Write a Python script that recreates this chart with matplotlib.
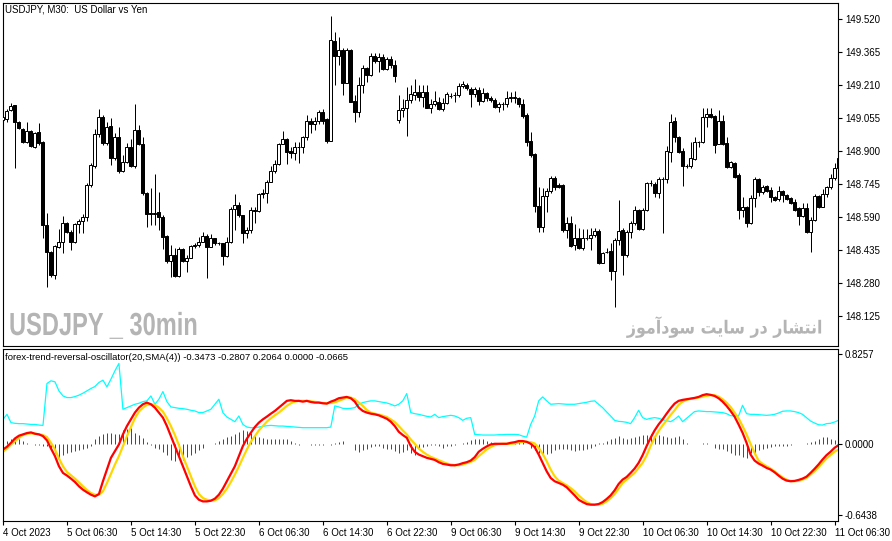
import numpy as np
import matplotlib
matplotlib.use('Agg')
import matplotlib.pyplot as plt
from matplotlib.patheffects import AbstractPathEffect
from matplotlib.transforms import Affine2D

plt.rcParams['font.family'] = ['Liberation Sans', 'DejaVu Sans']

# USDJPY M30 candles
open_ = [149.045, 149.050, 149.092, 149.116, 149.036, 149.003, 148.942, 148.993, 148.918, 148.989,
         148.942, 148.551, 148.425, 148.317, 148.448, 148.472, 148.561, 148.519, 148.472, 148.556,
         148.570, 148.589, 148.740, 148.829, 148.979, 149.059, 148.937, 149.017, 148.866, 148.965,
         148.805, 148.848, 148.918, 148.829, 148.998, 148.932, 148.702, 148.608, 148.603, 148.613,
         148.589, 148.500, 148.382, 148.411, 148.312, 148.439, 148.382, 148.397, 148.453, 148.458,
         148.472, 148.500, 148.448, 148.490, 148.467, 148.467, 148.406, 148.472, 148.627, 148.646,
         148.599, 148.514, 148.528, 148.622, 148.617, 148.697, 148.702, 148.754, 148.805, 148.838,
         148.932, 148.956, 148.899, 148.890, 148.918, 148.918, 148.965, 149.040, 149.026, 149.040,
         149.083, 149.050, 148.946, 149.416, 149.346, 149.374, 149.219, 149.374, 149.134, 149.083,
         149.210, 149.289, 149.257, 149.346, 149.322, 149.341, 149.285, 149.332, 149.304, 149.045,
         149.092, 149.101, 149.139, 149.163, 149.177, 149.153, 149.177, 149.101, 149.120, 149.130,
         149.097, 149.125, 149.158, 149.163, 149.163, 149.205, 149.210, 149.191, 149.167, 149.186,
         149.134, 149.172, 149.148, 149.139, 149.106, 149.120, 149.120, 149.148, 149.148, 149.148,
         149.120, 149.069, 148.946, 148.885, 148.641, 148.542, 148.688, 148.711, 148.773, 148.740,
         148.740, 148.528, 148.561, 148.458, 148.490, 148.443, 148.490, 148.490, 148.505, 148.523,
         148.373, 148.425, 148.429, 148.335, 148.481, 148.528, 148.411, 148.519, 148.561, 148.622,
         148.533, 148.622, 148.749, 148.744, 148.702, 148.768, 148.768, 148.895, 149.040, 148.965,
         148.899, 148.829, 148.829, 148.862, 148.942, 148.942, 149.059, 149.073, 149.064, 148.932,
         149.040, 148.937, 148.824, 148.843, 148.787, 148.622, 148.636, 148.561, 148.678, 148.768,
         148.707, 148.735, 148.716, 148.683, 148.674, 148.711, 148.693, 148.678, 148.660, 148.631,
         148.594, 148.631, 148.519, 148.575, 148.688, 148.636, 148.697, 148.730, 148.773, 148.819]
high = [149.069, 149.097, 149.125, 149.116, 149.040, 149.007, 149.036, 148.998, 148.989, 149.031,
        148.946, 148.608, 148.429, 148.458, 148.533, 148.594, 148.566, 148.528, 148.561, 148.580,
        148.603, 148.749, 148.843, 149.003, 149.097, 149.069, 149.036, 149.054, 148.984, 149.012,
        148.881, 148.937, 148.956, 149.120, 149.022, 148.965, 148.707, 148.725, 148.791, 148.707,
        148.599, 148.505, 148.458, 148.443, 148.448, 148.443, 148.411, 148.458, 148.467, 148.495,
        148.519, 148.509, 148.509, 148.490, 148.472, 148.467, 148.495, 148.636, 148.697, 148.660,
        148.599, 148.542, 148.636, 148.636, 148.702, 148.721, 148.763, 148.829, 148.857, 148.937,
        148.993, 148.961, 148.918, 148.942, 148.942, 148.970, 149.069, 149.054, 149.059, 149.092,
        149.097, 149.054, 149.534, 149.459, 149.435, 149.383, 149.383, 149.379, 149.163, 149.247,
        149.304, 149.294, 149.360, 149.360, 149.360, 149.355, 149.341, 149.346, 149.327, 149.163,
        149.144, 149.200, 149.210, 149.238, 149.210, 149.210, 149.210, 149.144, 149.181, 149.153,
        149.148, 149.177, 149.172, 149.177, 149.219, 149.228, 149.219, 149.200, 149.200, 149.200,
        149.195, 149.177, 149.158, 149.148, 149.130, 149.130, 149.181, 149.177, 149.181, 149.153,
        149.144, 149.078, 148.989, 148.890, 148.730, 148.725, 148.725, 148.782, 148.782, 148.749,
        148.744, 148.589, 148.594, 148.556, 148.537, 148.533, 148.533, 148.537, 148.537, 148.533,
        148.425, 148.443, 148.467, 148.490, 148.669, 148.537, 148.528, 148.570, 148.641, 148.627,
        148.631, 148.754, 148.763, 148.754, 148.777, 148.777, 148.923, 149.073, 149.059, 148.970,
        148.913, 148.838, 148.942, 148.965, 148.946, 149.101, 149.101, 149.101, 149.069, 149.092,
        149.069, 148.965, 148.852, 148.848, 148.796, 148.683, 148.641, 148.693, 148.777, 148.773,
        148.740, 148.740, 148.730, 148.688, 148.735, 148.716, 148.697, 148.683, 148.674, 148.636,
        148.655, 148.655, 148.589, 148.697, 148.693, 148.721, 148.735, 148.791, 148.843, 148.881]
low = [149.036, 149.036, 149.087, 148.819, 149.003, 148.937, 148.937, 148.918, 148.913, 148.928,
       148.490, 148.260, 148.307, 148.298, 148.443, 148.420, 148.514, 148.434, 148.467, 148.514,
       148.514, 148.570, 148.730, 148.819, 148.965, 148.928, 148.928, 148.834, 148.857, 148.796,
       148.801, 148.843, 148.824, 148.819, 148.928, 148.693, 148.542, 148.551, 148.551, 148.528,
       148.439, 148.373, 148.307, 148.307, 148.307, 148.378, 148.331, 148.397, 148.443, 148.448,
       148.472, 148.302, 148.448, 148.458, 148.458, 148.364, 148.401, 148.467, 148.528, 148.589,
       148.467, 148.490, 148.514, 148.561, 148.613, 148.678, 148.655, 148.754, 148.796, 148.834,
       148.932, 148.838, 148.866, 148.857, 148.843, 148.890, 148.951, 148.984, 148.998, 149.026,
       149.026, 148.937, 148.946, 149.210, 149.304, 149.163, 149.219, 149.130, 149.036, 149.059,
       149.172, 149.224, 149.252, 149.313, 149.271, 149.280, 149.280, 149.289, 149.224, 149.031,
       149.059, 148.970, 149.125, 149.139, 149.134, 149.106, 149.101, 149.078, 149.111, 149.092,
       149.087, 149.120, 149.148, 149.130, 149.153, 149.195, 149.186, 149.106, 149.153, 149.116,
       149.130, 149.134, 149.130, 149.101, 149.083, 149.092, 149.106, 149.130, 149.125, 149.106,
       149.054, 148.923, 148.871, 148.613, 148.519, 148.519, 148.613, 148.702, 148.716, 148.725,
       148.519, 148.490, 148.448, 148.434, 148.439, 148.434, 148.481, 148.434, 148.495, 148.368,
       148.373, 148.420, 148.293, 148.166, 148.458, 148.317, 148.401, 148.490, 148.551, 148.528,
       148.528, 148.617, 148.735, 148.683, 148.678, 148.514, 148.749, 148.848, 148.942, 148.890,
       148.735, 148.819, 148.819, 148.857, 148.918, 148.937, 149.012, 149.054, 148.890, 148.932,
       148.928, 148.819, 148.819, 148.773, 148.580, 148.589, 148.542, 148.556, 148.636, 148.688,
       148.697, 148.707, 148.660, 148.664, 148.664, 148.660, 148.669, 148.650, 148.617, 148.551,
       148.589, 148.514, 148.425, 148.570, 148.631, 148.636, 148.683, 148.721, 148.763, 148.810]
close = [149.059, 149.087, 149.111, 149.036, 149.007, 148.942, 148.993, 148.923, 148.984, 148.937,
         148.551, 148.425, 148.317, 148.453, 148.472, 148.561, 148.519, 148.472, 148.556, 148.570,
         148.589, 148.740, 148.834, 148.979, 149.059, 148.937, 149.012, 148.866, 148.965, 148.805,
         148.848, 148.918, 148.829, 148.998, 148.932, 148.702, 148.603, 148.603, 148.608, 148.589,
         148.495, 148.382, 148.411, 148.312, 148.439, 148.382, 148.397, 148.453, 148.458, 148.472,
         148.500, 148.448, 148.490, 148.467, 148.466, 148.406, 148.472, 148.627, 148.646, 148.599,
         148.514, 148.528, 148.622, 148.617, 148.697, 148.702, 148.754, 148.805, 148.838, 148.932,
         148.956, 148.895, 148.890, 148.918, 148.919, 148.965, 149.040, 149.026, 149.040, 149.083,
         149.040, 148.946, 149.421, 149.346, 149.374, 149.219, 149.374, 149.130, 149.083, 149.210,
         149.289, 149.257, 149.346, 149.322, 149.341, 149.285, 149.332, 149.304, 149.252, 149.092,
         149.101, 149.139, 149.167, 149.177, 149.153, 149.177, 149.101, 149.120, 149.134, 149.097,
         149.125, 149.167, 149.157, 149.162, 149.205, 149.214, 149.195, 149.167, 149.191, 149.134,
         149.172, 149.148, 149.139, 149.106, 149.120, 149.119, 149.148, 149.153, 149.153, 149.120,
         149.064, 148.942, 148.881, 148.641, 148.542, 148.688, 148.711, 148.773, 148.730, 148.730,
         148.528, 148.561, 148.453, 148.490, 148.443, 148.490, 148.489, 148.505, 148.523, 148.373,
         148.420, 148.424, 148.335, 148.481, 148.523, 148.411, 148.519, 148.561, 148.622, 148.533,
         148.622, 148.749, 148.748, 148.702, 148.768, 148.767, 148.899, 149.036, 148.965, 148.895,
         148.829, 148.828, 148.866, 148.942, 148.941, 149.059, 149.073, 149.059, 148.928, 149.040,
         148.932, 148.824, 148.848, 148.777, 148.622, 148.636, 148.561, 148.678, 148.768, 148.707,
         148.730, 148.711, 148.683, 148.669, 148.711, 148.693, 148.674, 148.655, 148.622, 148.594,
         148.631, 148.519, 148.575, 148.688, 148.636, 148.697, 148.730, 148.773, 148.819, 148.866]

# oscillator buffers
osc_main = [-0.046, -0.021, 0.015, 0.055, 0.080, 0.092, 0.104, 0.110, 0.098, 0.092,
            0.076, 0.037, -0.037, -0.107, -0.199, -0.260, -0.284, -0.312, -0.343, -0.382,
            -0.413, -0.437, -0.459, -0.474, -0.453, -0.336, -0.229, -0.122, -0.061, 0.000,
            0.092, 0.168, 0.229, 0.291, 0.336, 0.367, 0.382, 0.367, 0.336, 0.291,
            0.245, 0.168, 0.076, -0.015, -0.107, -0.199, -0.291, -0.382, -0.465, -0.505,
            -0.520, -0.520, -0.514, -0.495, -0.459, -0.404, -0.336, -0.269, -0.199, -0.107,
            -0.015, 0.052, 0.107, 0.159, 0.199, 0.229, 0.254, 0.281, 0.306, 0.336,
            0.367, 0.398, 0.404, 0.398, 0.398, 0.391, 0.398, 0.388, 0.382, 0.382,
            0.376, 0.373, 0.391, 0.404, 0.422, 0.428, 0.434, 0.422, 0.391, 0.336,
            0.306, 0.291, 0.281, 0.275, 0.266, 0.251, 0.235, 0.208, 0.168, 0.116,
            0.086, 0.061, -0.015, -0.067, -0.092, -0.107, -0.122, -0.131, -0.141, -0.162,
            -0.177, -0.183, -0.190, -0.190, -0.183, -0.171, -0.162, -0.147, -0.116, -0.067,
            -0.040, -0.018, 0.000, 0.006, 0.006, 0.006, 0.006, 0.015, 0.021, 0.031,
            0.031, 0.024, 0.006, -0.024, -0.092, -0.168, -0.245, -0.306, -0.336, -0.352,
            -0.367, -0.391, -0.428, -0.465, -0.505, -0.526, -0.544, -0.550, -0.550, -0.544,
            -0.526, -0.498, -0.465, -0.419, -0.361, -0.321, -0.297, -0.260, -0.220, -0.168,
            -0.098, -0.015, 0.061, 0.128, 0.183, 0.229, 0.281, 0.330, 0.373, 0.398,
            0.407, 0.413, 0.419, 0.425, 0.434, 0.450, 0.459, 0.453, 0.443, 0.422,
            0.391, 0.352, 0.306, 0.254, 0.183, 0.107, 0.015, -0.092, -0.147, -0.174,
            -0.193, -0.214, -0.229, -0.254, -0.284, -0.312, -0.330, -0.336, -0.333, -0.324,
            -0.312, -0.294, -0.260, -0.223, -0.183, -0.138, -0.098, -0.067, -0.031, -0.006]
osc_signal = [-0.067, -0.037, 0.000, 0.031, 0.061, 0.086, 0.098, 0.101, 0.098, 0.092,
              0.086, 0.067, 0.015, -0.046, -0.128, -0.199, -0.251, -0.281, -0.312, -0.346,
              -0.382, -0.416, -0.443, -0.459, -0.459, -0.428, -0.352, -0.269, -0.183, -0.107,
              -0.015, 0.076, 0.159, 0.239, 0.300, 0.336, 0.361, 0.367, 0.361, 0.336,
              0.300, 0.239, 0.168, 0.086, -0.006, -0.107, -0.199, -0.291, -0.382, -0.453,
              -0.489, -0.505, -0.511, -0.511, -0.489, -0.453, -0.404, -0.343, -0.275, -0.202,
              -0.122, -0.046, 0.024, 0.076, 0.128, 0.168, 0.208, 0.239, 0.266, 0.291,
              0.321, 0.352, 0.376, 0.391, 0.398, 0.398, 0.398, 0.394, 0.391, 0.385,
              0.379, 0.376, 0.379, 0.385, 0.398, 0.413, 0.428, 0.428, 0.413, 0.382,
              0.352, 0.315, 0.291, 0.281, 0.272, 0.263, 0.251, 0.229, 0.205, 0.168,
              0.128, 0.092, 0.046, 0.006, -0.037, -0.067, -0.092, -0.113, -0.128, -0.144,
              -0.159, -0.174, -0.183, -0.190, -0.190, -0.183, -0.171, -0.159, -0.141, -0.107,
              -0.076, -0.046, -0.024, -0.006, 0.003, 0.006, 0.006, 0.006, 0.009, 0.018,
              0.024, 0.024, 0.021, 0.009, -0.031, -0.086, -0.153, -0.229, -0.291, -0.330,
              -0.352, -0.373, -0.398, -0.428, -0.465, -0.498, -0.526, -0.544, -0.550, -0.550,
              -0.541, -0.520, -0.489, -0.453, -0.404, -0.352, -0.321, -0.291, -0.260, -0.214,
              -0.168, -0.101, -0.015, 0.061, 0.122, 0.174, 0.220, 0.269, 0.312, 0.361,
              0.391, 0.407, 0.416, 0.422, 0.428, 0.437, 0.443, 0.450, 0.450, 0.437,
              0.413, 0.382, 0.343, 0.291, 0.239, 0.168, 0.092, 0.006, -0.076, -0.147,
              -0.177, -0.199, -0.220, -0.245, -0.275, -0.300, -0.321, -0.333, -0.336, -0.333,
              -0.321, -0.306, -0.275, -0.245, -0.208, -0.168, -0.128, -0.098, -0.067, -0.046]
osc_cyan = [0.229, 0.275, 0.199, 0.193, 0.190, 0.190, 0.187, 0.183, 0.183, 0.177,
            0.174, 0.557, 0.581, 0.572, 0.489, 0.443, 0.428, 0.428, 0.437, 0.450,
            0.468, 0.489, 0.511, 0.529, 0.566, 0.587, 0.526, 0.596, 0.673, 0.740,
            0.321, 0.336, 0.352, 0.367, 0.376, 0.391, 0.398, 0.443, 0.367, 0.413,
            0.483, 0.391, 0.343, 0.336, 0.330, 0.327, 0.321, 0.312, 0.306, 0.291,
            0.291, 0.306, 0.321, 0.367, 0.413, 0.291, 0.251, 0.229, 0.208, 0.260,
            0.183, 0.159, 0.153, 0.153, 0.159, 0.165, 0.171, 0.174, 0.171, 0.168,
            0.168, 0.165, 0.162, 0.159, 0.156, 0.153, 0.153, 0.153, 0.153, 0.153,
            0.153, 0.153, 0.159, 0.352, 0.343, 0.330, 0.327, 0.330, 0.336, 0.367,
            0.382, 0.391, 0.398, 0.398, 0.391, 0.385, 0.379, 0.367, 0.352, 0.367,
            0.398, 0.465, 0.291, 0.281, 0.275, 0.266, 0.257, 0.251, 0.275, 0.245,
            0.254, 0.260, 0.266, 0.260, 0.245, 0.220, 0.239, 0.245, 0.092, 0.089,
            0.086, 0.086, 0.086, 0.086, 0.089, 0.089, 0.092, 0.092, 0.092, 0.089,
            0.076, 0.067, 0.183, 0.260, 0.398, 0.434, 0.398, 0.367, 0.370, 0.373,
            0.370, 0.367, 0.367, 0.367, 0.373, 0.379, 0.385, 0.394, 0.398, 0.367,
            0.336, 0.297, 0.260, 0.220, 0.211, 0.208, 0.202, 0.190, 0.245, 0.312,
            0.245, 0.229, 0.239, 0.245, 0.239, 0.226, 0.217, 0.208, 0.229, 0.260,
            0.208, 0.239, 0.269, 0.300, 0.306, 0.303, 0.300, 0.300, 0.297, 0.294,
            0.291, 0.281, 0.263, 0.260, 0.260, 0.358, 0.281, 0.275, 0.275, 0.272,
            0.269, 0.266, 0.269, 0.275, 0.287, 0.303, 0.306, 0.306, 0.300, 0.291,
            0.275, 0.245, 0.214, 0.196, 0.180, 0.177, 0.190, 0.193, 0.205, 0.220]
osc_hist = [0.012, 0.031, 0.046, 0.061, 0.046, 0.031, 0.015, 0.006, -0.009, -0.009,
            -0.012, -0.015, -0.055, -0.076, -0.122, -0.092, -0.076, -0.067, -0.061, -0.055,
            -0.046, -0.031, -0.015, 0.046, 0.076, 0.098, 0.107, 0.107, 0.098, 0.092,
            0.128, 0.138, 0.147, 0.107, 0.086, 0.061, 0.024, -0.009, -0.031, -0.046,
            -0.067, -0.092, -0.138, -0.153, -0.122, -0.138, -0.116, -0.092, -0.076, -0.055,
            -0.031, 0.000, 0.006, 0.015, 0.031, 0.052, 0.067, 0.076, 0.098, 0.116,
            0.128, 0.122, 0.107, 0.092, 0.067, 0.061, 0.052, 0.046, 0.046, 0.046,
            0.046, 0.046, 0.031, 0.012, -0.009, 0.000, 0.000, -0.009, -0.009, -0.009,
            -0.009, 0.006, -0.009, 0.015, 0.024, 0.031, 0.000, 0.000, -0.055, -0.067,
            -0.055, -0.037, -0.024, -0.015, -0.015, -0.031, -0.037, -0.046, -0.061, -0.076,
            -0.067, -0.055, -0.076, -0.092, -0.046, -0.024, -0.015, -0.009, -0.009, -0.015,
            -0.030, -0.015, -0.015, -0.009, 0.000, 0.015, 0.024, 0.037, 0.052, 0.052,
            0.046, 0.031, 0.021, 0.012, 0.000, 0.006, 0.006, 0.006, 0.009, 0.021,
            0.024, 0.000, -0.031, -0.055, -0.076, -0.107, -0.086, -0.076, -0.055, -0.046,
            -0.037, -0.046, -0.055, -0.061, -0.055, -0.055, -0.046, -0.031, -0.015, 0.009,
            0.015, 0.031, 0.046, 0.061, 0.076, 0.061, 0.052, 0.055, 0.067, 0.076,
            0.083, 0.086, 0.092, 0.086, 0.086, 0.076, 0.067, 0.061, 0.067, 0.076,
            0.046, 0.015, 0.006, 0.006, 0.006, 0.009, 0.009, 0.000, -0.031, -0.037,
            -0.046, -0.061, -0.076, -0.092, -0.092, -0.116, -0.128, -0.076, -0.092, -0.055,
            -0.037, -0.031, -0.024, -0.015, -0.015, -0.015, -0.015, -0.009, 0.000, 0.000,
            0.006, 0.015, 0.024, 0.031, 0.052, 0.067, 0.067, 0.052, 0.037, 0.046]

price_ticks = [149.520, 149.365, 149.210, 149.055, 148.900, 148.745, 148.590, 148.435, 148.280, 148.125]
osc_ticks = [0.8257, 0.0, -0.6438]
time_labels = ['4 Oct 2023', '5 Oct 06:30', '5 Oct 14:30', '5 Oct 22:30', '6 Oct 06:30',
               '6 Oct 14:30', '6 Oct 22:30', '9 Oct 06:30', '9 Oct 14:30', '9 Oct 22:30',
               '10 Oct 06:30', '10 Oct 14:30', '10 Oct 22:30', '11 Oct 06:30']
label_bars = [0, 16, 32, 48, 64, 80, 96, 112, 128, 144, 160, 176, 192, 208]


class SqueezeX(AbstractPathEffect):
    """squeeze glyphs horizontally around x0 (pixels) - a narrow font stand-in"""
    def __init__(self, x0, sx):
        super().__init__()
        self.x0 = x0
        self.sx = sx

    def draw_path(self, renderer, gc, tpath, affine, rgbFace=None):
        t = affine + Affine2D().translate(-self.x0, 0).scale(self.sx, 1).translate(self.x0, 0)
        renderer.draw_path(gc, tpath, t, rgbFace)


W, H = 892, 541
fig = plt.figure(figsize=(W / 100, H / 100), dpi=100)
ax = fig.add_axes([3 / W, 1 - 346 / H, 835 / W, 343 / H])
ax2 = fig.add_axes([3 / W, 1 - 521 / H, 835 / W, 172 / H])

o = np.array(open_)
c = np.array(close)
x = np.arange(len(c))
# 4 px per bar, bar centres on pixel centres
XLIM = (0.125, 208.875)

# candles
ax.vlines(x, low, high, color='black', linewidth=0.72, zorder=2)
body_col = np.where(c >= o, 'white', 'black')
ax.bar(x, np.abs(c - o), bottom=np.minimum(o, c), width=0.55, color=body_col,
       edgecolor='black', linewidth=0.72, zorder=3)
ax.set_xlim(*XLIM)
ax.set_ylim(147.983, 149.595)
ax.yaxis.tick_right()
ax.set_yticks(price_ticks)
ax.set_yticklabels([f'{p:.3f}' for p in price_ticks])
ax.set_xticks([])
ax.tick_params(axis='y', direction='out', length=3, width=0.8, pad=2, labelsize=7)
for s in ax.spines.values():
    s.set_linewidth(0.8)

# oscillator panel
h = np.array(osc_hist)
pos = h > 0
neg = h < 0
ax2.vlines(x[pos], 0, h[pos], color='#008000', linewidth=0.72)
ax2.vlines(x[neg], 0, h[neg], color='#ff0000', linewidth=0.72)
ax2.plot(x, osc_cyan, color='#00ffff', linewidth=0.9)
ax2.plot(x, osc_signal, color='#ffd700', linewidth=1.6)
ax2.plot(x, osc_main, color='#ff0000', linewidth=1.6)
ax2.set_xlim(*XLIM)
ax2.set_ylim(-0.699, 0.8716)
ax2.yaxis.tick_right()
ax2.set_yticks(osc_ticks)
ax2.set_yticklabels([f'{v:.4f}' for v in osc_ticks])
ax2.set_xticks(label_bars)
ax2.set_xticklabels(time_labels, ha='left')
ax2.tick_params(axis='both', direction='out', length=3, width=0.8, pad=2, labelsize=7)
for s in ax2.spines.values():
    s.set_linewidth(0.8)

fig.text(5 / W, 1 - 9 / H, 'USDJPY, M30:  US Dollar vs Yen', fontsize=7, va='center')
fig.text(5 / W, 1 - 358 / H,
         'forex-trend-reversal-oscillator(20,SMA(4)) -0.3473 -0.2807 0.2064 0.0000 -0.0665',
         fontsize=6.8, va='center')

fig.text(9 / W, 1 - 327 / H, 'USDJPY _ 30min', fontsize=23, fontweight='bold',
         color='#b4b4b4', va='center', family=['Liberation Sans', 'DejaVu Sans'],
         path_effects=[SqueezeX(9, 0.74)])
# Persian watermark in visual order (presentation forms)
fa_text = ('\uFEAF\uFEEE\uFEE3\uFE81\uFEA9\uFEEE\uFEB3 \uFE96\uFBFE\uFE8E\uFEB3 '
           '\uFEAD\uFEA9 \uFEAD\uFE8E\uFEB8\uFE98\uFEE7\uFE8D')
fig.text(822 / W, 1 - 327 / H, fa_text, fontsize=13, fontweight='bold',
         color='#b4b4b4', va='center', ha='right', family=['DejaVu Sans'],
         path_effects=[SqueezeX(822, 0.88)])

fig.savefig('out.png', dpi=100)
